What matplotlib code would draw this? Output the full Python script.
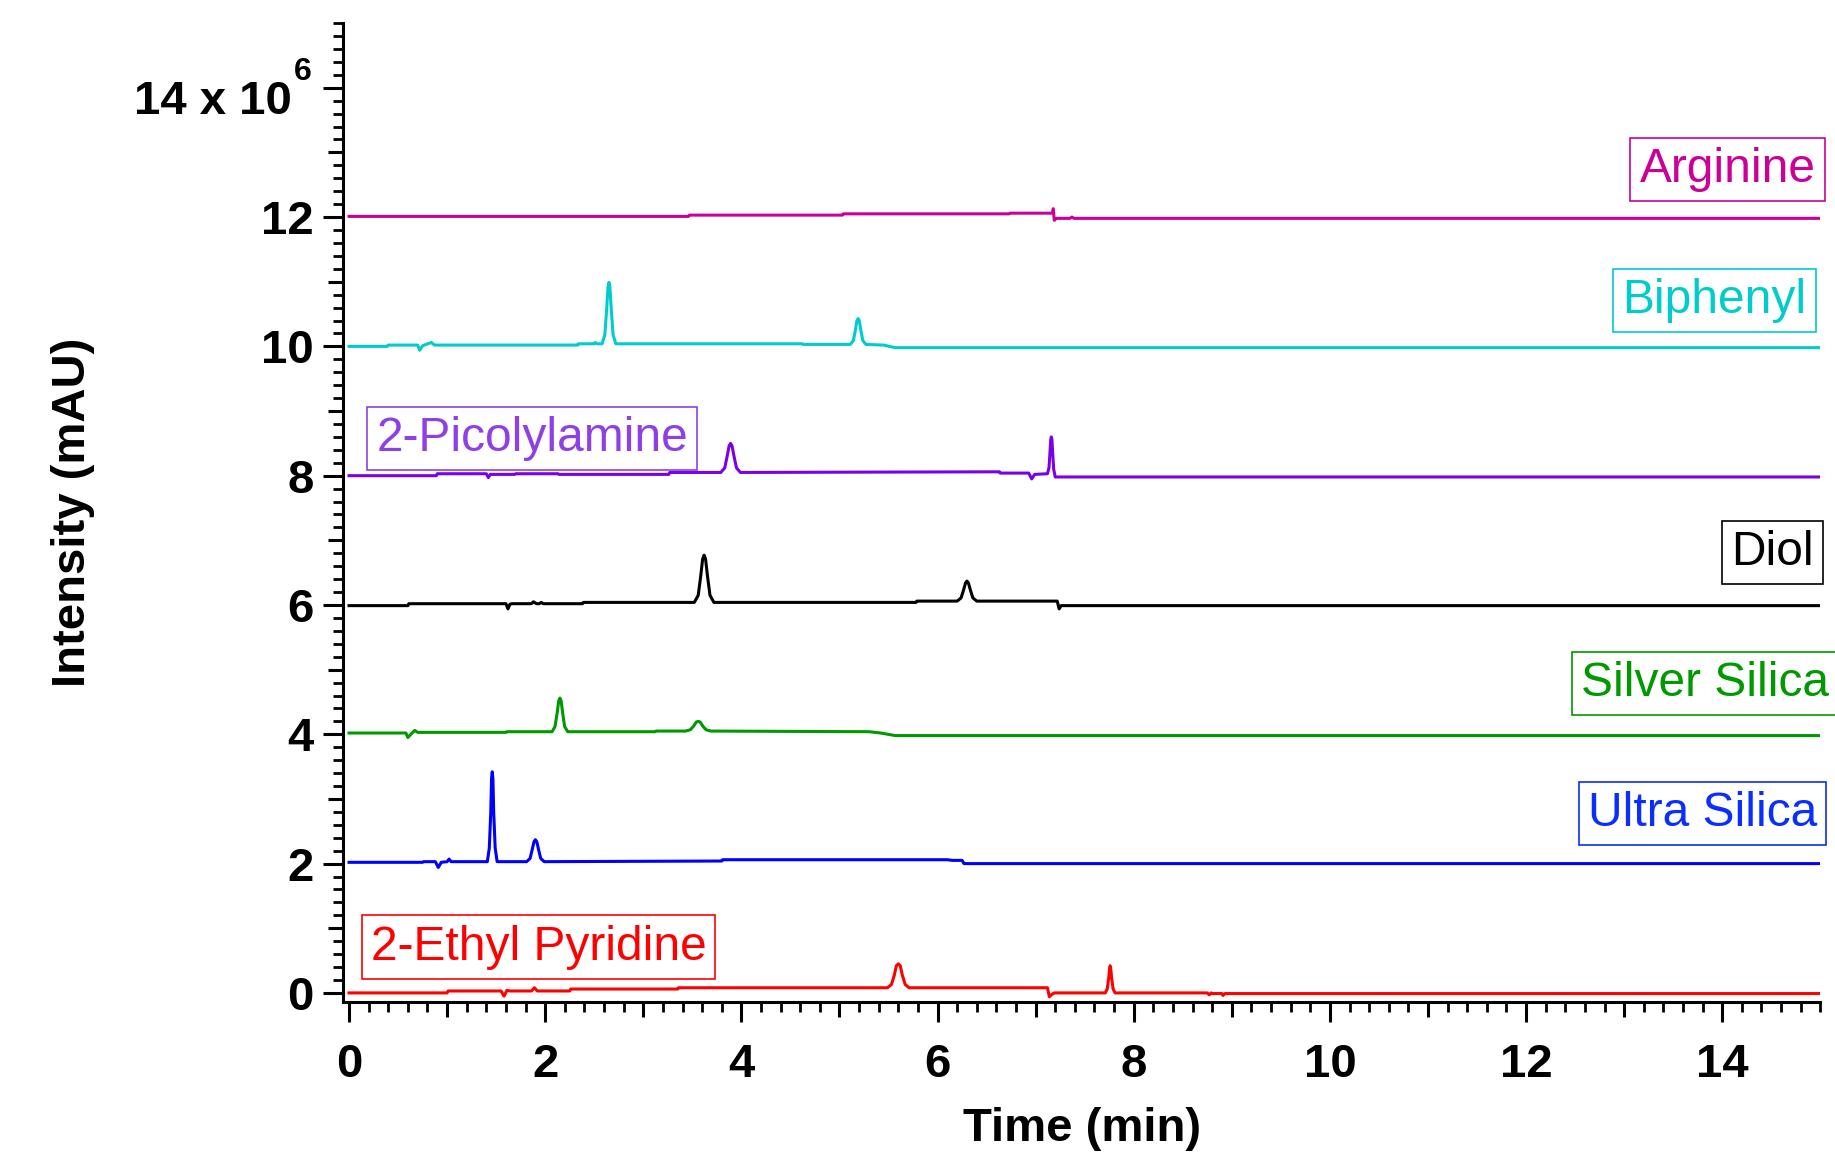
import matplotlib
matplotlib.use("Agg")
import matplotlib.pyplot as plt
from matplotlib.ticker import MultipleLocator
from matplotlib.transforms import blended_transform_factory

plt.rcParams['font.family'] = ['Liberation Sans', 'DejaVu Sans']

# chromatogram traces, (time in min, intensity in 10^6 mAU above each trace's baseline)
ethyl_pyridine = [
    (0.0, 0.0), (1.0, 0.0), (1.01, 0.03), (1.55, 0.03), (1.58, -0.05), (1.61, 0.04), (1.64, 0.03),
    (1.86, 0.03), (1.89, 0.08), (1.92, 0.03), (2.25, 0.03), (2.26, 0.06), (3.35, 0.06), (3.36, 0.08),
    (5.49, 0.08), (5.53, 0.13), (5.56, 0.28), (5.58, 0.42), (5.60, 0.45), (5.62, 0.42), (5.64, 0.28),
    (5.67, 0.13), (5.71, 0.08), (7.12, 0.08), (7.14, -0.06), (7.16, -0.03), (7.19, 0.0),
    (7.71, 0.0), (7.73, 0.06), (7.745, 0.23), (7.755, 0.39), (7.76, 0.42), (7.765, 0.39),
    (7.775, 0.23), (7.79, 0.06), (7.81, 0.0), (8.75, 0.0), (8.77, -0.03), (8.79, 0.0),
    (8.80, -0.01), (8.90, -0.01), (8.91, -0.04), (8.93, -0.01), (15.0, -0.01),
]
ultra_silica = [
    (0.0, 0.02), (0.75, 0.02), (0.76, 0.03), (0.88, 0.03), (0.91, -0.06), (0.94, 0.02), (1.0, 0.03),
    (1.02, 0.07), (1.04, 0.03), (1.41, 0.03), (1.43, 0.24), (1.445, 0.79), (1.453, 1.31),
    (1.46, 1.42), (1.467, 1.31), (1.475, 0.79), (1.49, 0.24), (1.51, 0.03), (1.81, 0.03),
    (1.846, 0.08), (1.868, 0.22), (1.886, 0.34), (1.90, 0.37), (1.914, 0.34), (1.932, 0.22),
    (1.954, 0.08), (1.99, 0.03), (3.80, 0.04), (3.81, 0.06), (6.10, 0.06), (6.15, 0.05),
    (6.25, 0.05), (6.27, 0.0), (15.0, 0.0),
]
silver_silica = [
    (0.0, 0.02), (0.58, 0.02), (0.60, -0.05), (0.63, 0.0), (0.67, 0.06), (0.70, 0.03), (1.60, 0.03),
    (1.61, 0.04), (2.07, 0.04), (2.10, 0.12), (2.122, 0.33), (2.138, 0.52), (2.15, 0.56),
    (2.162, 0.52), (2.178, 0.33), (2.198, 0.12), (2.23, 0.04), (3.12, 0.04), (3.13, 0.05),
    (3.43, 0.05), (3.48, 0.07), (3.515, 0.13), (3.54, 0.19), (3.56, 0.20), (3.58, 0.19),
    (3.605, 0.13), (3.64, 0.07), (3.69, 0.05), (5.30, 0.04), (5.42, 0.02), (5.57, -0.02),
    (15.0, -0.02),
]
diol = [
    (0.0, -0.01), (0.60, -0.01), (0.61, 0.02), (1.60, 0.02), (1.62, -0.06), (1.64, 0.01),
    (1.66, 0.02), (1.86, 0.02), (1.88, 0.05), (1.91, 0.02), (1.94, 0.02), (1.96, 0.04),
    (1.98, 0.02), (2.38, 0.02), (2.39, 0.04), (3.52, 0.04), (3.56, 0.15), (3.585, 0.44),
    (3.605, 0.71), (3.62, 0.77), (3.635, 0.71), (3.655, 0.44), (3.68, 0.15), (3.72, 0.04),
    (5.78, 0.04), (5.79, 0.06), (6.20, 0.06), (6.24, 0.11), (6.265, 0.23), (6.285, 0.34),
    (6.30, 0.37), (6.315, 0.34), (6.335, 0.23), (6.36, 0.11), (6.40, 0.06), (7.22, 0.06),
    (7.24, -0.06), (7.26, -0.01), (15.0, -0.01),
]
picolylamine = [
    (0.0, 0.0), (0.89, 0.0), (0.90, 0.03), (1.40, 0.03), (1.42, -0.03), (1.44, 0.02), (1.69, 0.02),
    (1.70, 0.03), (2.13, 0.03), (2.14, 0.02), (3.26, 0.02), (3.27, 0.05), (3.79, 0.05),
    (3.83, 0.12), (3.855, 0.30), (3.875, 0.46), (3.89, 0.50), (3.905, 0.46), (3.925, 0.30),
    (3.95, 0.12), (3.99, 0.05), (6.63, 0.06), (6.64, 0.04), (6.93, 0.04), (6.96, -0.05),
    (6.99, 0.02), (7.12, 0.03), (7.136, 0.12), (7.146, 0.35), (7.154, 0.56), (7.16, 0.60),
    (7.166, 0.56), (7.174, 0.35), (7.184, 0.10), (7.20, -0.02), (15.0, -0.02),
]
biphenyl = [
    (0.0, 0.0), (0.39, 0.0), (0.40, 0.02), (0.70, 0.02), (0.72, -0.06), (0.75, 0.01), (0.84, 0.06),
    (0.87, 0.02), (2.33, 0.02), (2.34, 0.04), (2.50, 0.04), (2.51, 0.06), (2.53, 0.04),
    (2.58, 0.04), (2.608, 0.18), (2.626, 0.56), (2.64, 0.91), (2.65, 0.99), (2.66, 0.91),
    (2.674, 0.56), (2.692, 0.18), (2.72, 0.04), (4.62, 0.04), (4.63, 0.03), (5.11, 0.03),
    (5.142, 0.09), (5.162, 0.25), (5.178, 0.40), (5.19, 0.43), (5.202, 0.40), (5.218, 0.25),
    (5.238, 0.09), (5.27, 0.03), (5.45, 0.02), (5.57, -0.02), (15.0, -0.02),
]
arginine = [
    (0.0, 0.01), (3.46, 0.01), (3.47, 0.03), (5.03, 0.03), (5.04, 0.05), (6.73, 0.05),
    (6.74, 0.06), (7.17, 0.06), (7.18, 0.13), (7.19, -0.05), (7.21, -0.02), (7.35, -0.02),
    (7.37, 0.0), (7.39, -0.02), (15.0, -0.02),
]

traces = [ethyl_pyridine, ultra_silica, silver_silica, diol, picolylamine, biphenyl, arginine]
names = ['2-Ethyl Pyridine', 'Ultra Silica', 'Silver Silica', 'Diol',
         '2-Picolylamine', 'Biphenyl', 'Arginine']
offsets = [0, 2, 4, 6, 8, 10, 12]
line_colors = ['#FF0000', '#0000FF', '#009900', '#000000', '#7A00E8', '#00CCCC', '#CC0099']
label_colors = ['#FF0000', '#0A2EFF', '#009900', '#000000', '#8E3FE6', '#00CCCC', '#CC0099']
# label anchor (time, intensity) and horizontal alignment
label_pos = [(0.22, 0.71), (14.97, 2.77), (15.09, 4.78), (14.93, 6.81),
             (0.28, 8.58), (14.86, 10.71), (14.95, 12.73)]
label_ha = ['left', 'right', 'right', 'right', 'left', 'right', 'right']

yticks = [0, 2, 4, 6, 8, 10, 12, 14]
ytick_labels = ['0', '2', '4', '6', '8', '10', '12', '']
xticks = [0, 2, 4, 6, 8, 10, 12, 14]

fig = plt.figure(figsize=(18.35, 11.55), dpi=100)
ax = fig.add_axes([0.187, 0.1325, 0.805, 0.8475])

for pts, off, col in zip(traces, offsets, line_colors):
    t = [p[0] for p in pts]
    v = [p[1] + off for p in pts]
    ax.plot(t, v, color=col, lw=2.2, solid_joinstyle='round', zorder=2)

for name, (x, y), ha, col in zip(names, label_pos, label_ha, label_colors):
    ax.text(x, y, name, color=col, fontsize=34.5, ha=ha, va='center', zorder=5,
            bbox=dict(boxstyle='square,pad=0.19', fc='white', ec=col, lw=1.2))

ax.set_xlim(-0.06, 15.0)
ax.set_ylim(-0.14, 15.0)
for side in ['top', 'right']:
    ax.spines[side].set_visible(False)
for side in ['left', 'bottom']:
    ax.spines[side].set_linewidth(2.2)

ax.set_xticks(xticks)
ax.set_xticklabels([str(x) for x in xticks])
ax.set_yticks(yticks)
ax.set_yticklabels(ytick_labels)
ax.xaxis.set_minor_locator(MultipleLocator(0.2))
ax.yaxis.set_minor_locator(MultipleLocator(0.2))
ax.tick_params(which='major', length=14.4, width=2.2, labelsize=34)
ax.tick_params(which='minor', length=7.2, width=2.0)
ax.tick_params(axis='x', which='major', pad=15)
ax.tick_params(axis='y', which='major', pad=7)
for lab in ax.get_xticklabels() + ax.get_yticklabels():
    lab.set_fontweight('bold')

# top label carries the scale factor, written with a raised exponent
trans = blended_transform_factory(ax.transAxes, ax.transData)
ax.text(-0.0345, 13.59, '14 x 10', transform=trans, ha='right', va='baseline',
        fontsize=34, fontweight='bold', clip_on=False)
ax.text(-0.0335, 14.12, '6', transform=trans, ha='left', va='baseline',
        fontsize=23, fontweight='bold', clip_on=False)

# half-way ticks at odd values, a bit longer than the minor ones
secx = ax.secondary_xaxis('bottom')
secx.set_xticks([1, 3, 5, 7, 9, 11, 13])
secx.tick_params(length=10.8, width=2.2, labelbottom=False)
secx.spines['bottom'].set_visible(False)
secy = ax.secondary_yaxis('left')
secy.set_yticks([1, 3, 5, 7, 9, 11, 13])
secy.tick_params(length=10.8, width=2.2, labelleft=False)
secy.spines['left'].set_visible(False)

ax.set_xlabel('Time (min)', fontsize=34, fontweight='bold')
ax.set_ylabel('Intensity (mAU)', fontsize=34, fontweight='bold')
ax.xaxis.set_label_coords(0.5, -0.107)
ax.yaxis.set_label_coords(-0.168, 0.5)

fig.savefig('out.png', dpi=100)
